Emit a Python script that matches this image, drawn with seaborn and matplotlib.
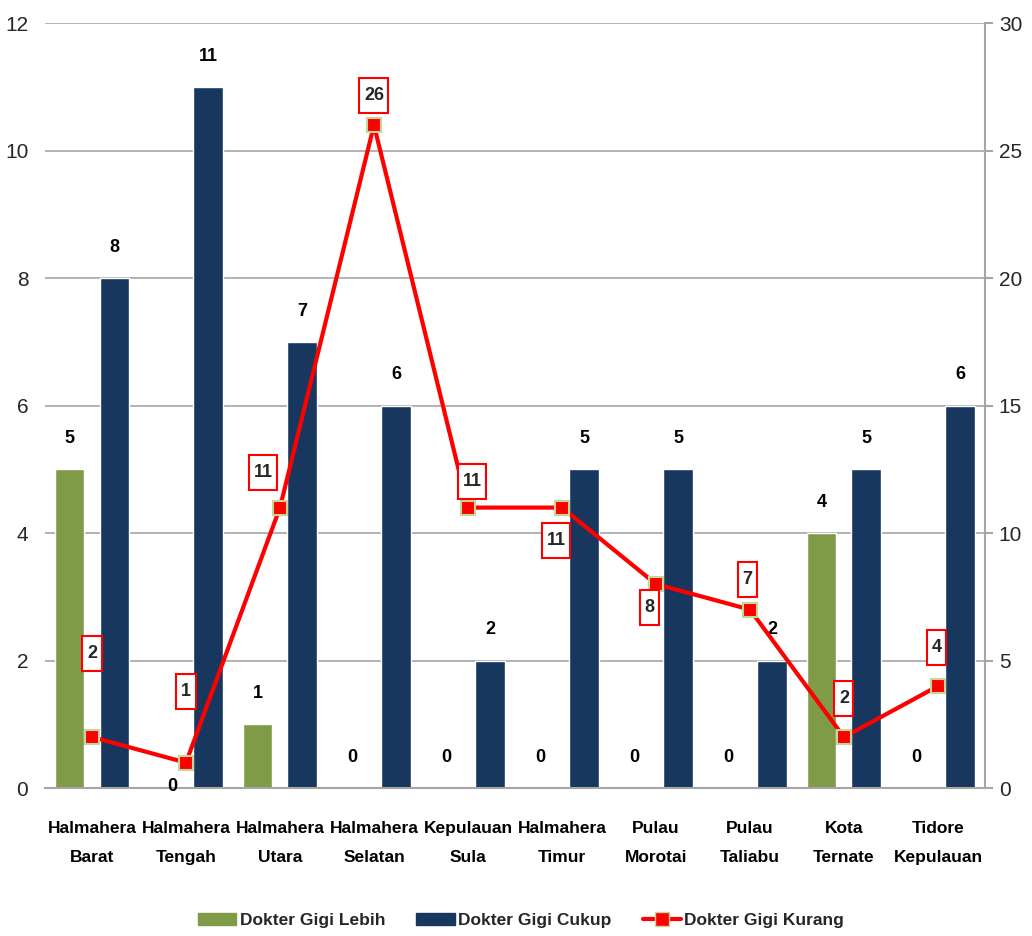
import pandas as pd
import numpy as np
import seaborn as sns
import matplotlib.pyplot as plt
from matplotlib.patches import Patch
from matplotlib.lines import Line2D
from matplotlib.path import Path

# data
regions = ["Halmahera\nBarat", "Halmahera\nTengah", "Halmahera\nUtara", "Halmahera\nSelatan",
           "Kepulauan\nSula", "Halmahera\nTimur", "Pulau\nMorotai", "Pulau\nTaliabu",
           "Kota\nTernate", "Tidore\nKepulauan"]
lebih = [5, 0, 1, 0, 0, 0, 0, 0, 4, 0]
cukup = [8, 11, 7, 6, 2, 5, 5, 2, 5, 6]
kurang = [2, 1, 11, 26, 11, 11, 8, 7, 2, 4]
series_names = ["Dokter Gigi Lebih", "Dokter Gigi Cukup", "Dokter Gigi Kurang"]

# label offsets (points) for the boxed line labels
label_offsets = [(0, 60), (0, 51), (-12, 25), (0, 21), (3, 19), (-4, -24), (-5, -17), (-2, 22), (0, 28), (-1, 28)]

green = "#7f9b48"
navy = "#17375e"
red = "#ff0000"


def tall_box(x0, y0, width, height, mutation_size):
    # excel style label box: narrow sides, tall top/bottom
    px = 0.25 * mutation_size
    py = 0.5 * mutation_size
    x0, y0 = x0 - px, y0 - py
    x1, y1 = x0 + width + 2 * px, y0 + height + 2 * py
    return Path([(x0, y0), (x1, y0), (x1, y1), (x0, y1), (x0, y0)], closed=True)


sns.set_theme(style="white")
plt.rcParams['font.family'] = ['Liberation Sans', 'DejaVu Sans']

df = pd.DataFrame({
    "region": regions * 2,
    "jumlah": lebih + cukup,
    "kategori": [series_names[0]] * len(regions) + [series_names[1]] * len(regions),
})

fig = plt.figure(figsize=(10.32, 9.36), dpi=100)
ax = fig.add_axes([0.0436, 0.158, 0.9108, 0.8174])

sns.barplot(data=df, x="region", y="jumlah", hue="kategori", palette=[green, navy],
            width=0.94, gap=0.34, saturation=1, errorbar=None, legend=False, ax=ax)

for i, cont in enumerate(ax.containers):
    texts = ax.bar_label(cont, padding=16, fontsize=13, fontweight="bold", color="black")
    if i == 0:
        # the zero label at Halmahera Tengah sits lower, beside the marker
        texts[1].set_position((texts[1].get_position()[0] + 6, -5))

ax.set_ylim(0, 12)
ax.set_yticks(range(0, 13, 2))
ax.yaxis.grid(True, color="#a6a6a6", lw=1.2)
ax.set_axisbelow(True)
ax.set_xlabel("")
ax.set_ylabel("")
for s in ["left", "top", "right"]:
    ax.spines[s].set_visible(False)
ax.spines["bottom"].set_color("#a6a6a6")
ax.spines["bottom"].set_linewidth(1.5)
ax.tick_params(axis="y", length=0, pad=12, labelsize=15, labelcolor="#262626")
ax.tick_params(axis="x", length=0, pad=24)
for t in ax.get_xticklabels():
    t.set_fontsize(12.5)
    t.set_fontweight("bold")
    t.set_linespacing(2.1)
    t.set_color("black")

ax2 = ax.twinx()
sns.pointplot(x=regions, y=kurang, ax=ax2, color=red, markers="s", markersize=10,
              markeredgecolor="#c4d79b", markeredgewidth=1.5, linewidth=3)
for i, v in enumerate(kurang):
    ax2.annotate(str(v), (i, v), xytext=label_offsets[i], textcoords="offset points",
                 ha="center", va="center", fontsize=13, fontweight="bold",
                 bbox=dict(boxstyle=tall_box, fc="white", ec=red, lw=1.5))
ax2.set_ylim(0, 30)
ax2.set_yticks(range(0, 31, 5))
ax2.set_ylabel("")
for s in ["left", "top", "bottom"]:
    ax2.spines[s].set_visible(False)
ax2.spines["right"].set_color("#a6a6a6")
ax2.spines["right"].set_linewidth(1.5)
ax2.tick_params(axis="y", length=6, width=1.5, color="#a6a6a6", pad=4, labelsize=15, labelcolor="#262626")
ax.set_xlim(-0.5, len(regions) - 0.5)

handles = [Patch(color=green), Patch(color=navy),
           Line2D([], [], color=red, lw=3, marker="s", markersize=10,
                  markerfacecolor=red, markeredgecolor="#c4d79b")]
fig.legend(handles, series_names, loc="lower center", bbox_to_anchor=(0.505, -0.008), ncol=3,
           frameon=False, prop={"size": 12.5, "weight": "bold"}, handlelength=2.2,
           handletextpad=0.2, columnspacing=1.8)

fig.savefig("out.png", dpi=100)
